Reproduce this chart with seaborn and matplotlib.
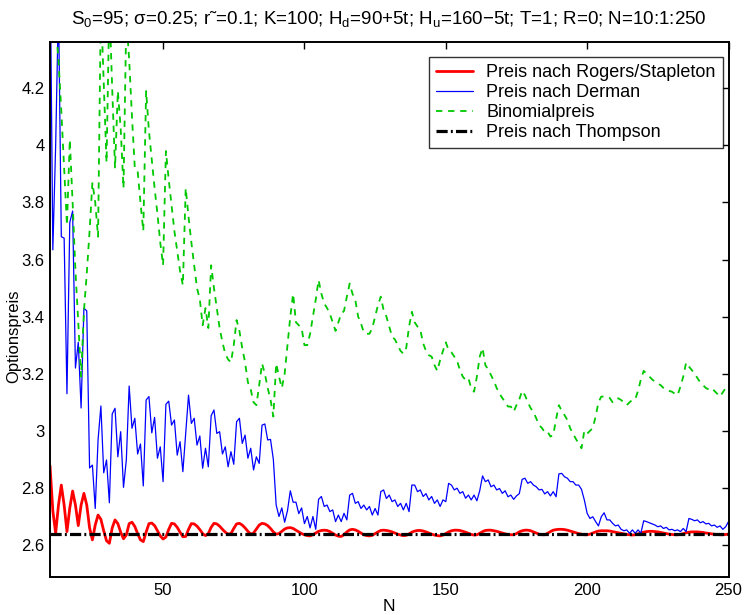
import numpy as np
import pandas as pd
import matplotlib
matplotlib.use("Agg")
import matplotlib.pyplot as plt
from matplotlib.ticker import FuncFormatter
import seaborn as sns

# ---------------- data ----------------
N = list(range(10, 251))

rogers_stapleton = [
    2.878, 2.72, 2.641, 2.74, 2.81, 2.74, 2.647, 2.73, 2.789, 2.74,
    2.668, 2.74, 2.781, 2.74, 2.66, 2.618, 2.67, 2.705, 2.69, 2.65,
    2.615, 2.606, 2.66, 2.688, 2.675, 2.645, 2.622, 2.635, 2.675, 2.68,
    2.665, 2.64, 2.618, 2.612, 2.645, 2.675, 2.677, 2.668, 2.65, 2.632,
    2.621, 2.628, 2.655, 2.676, 2.674, 2.662, 2.645, 2.629, 2.63, 2.655,
    2.675, 2.674, 2.666, 2.654, 2.64, 2.633, 2.64, 2.662, 2.676, 2.674,
    2.666, 2.655, 2.645, 2.638, 2.64, 2.658, 2.674, 2.676, 2.67, 2.66,
    2.648, 2.638, 2.642, 2.656, 2.67, 2.676, 2.674, 2.668, 2.658, 2.646,
    2.638, 2.64, 2.648, 2.656, 2.66, 2.661, 2.658, 2.652, 2.646, 2.64,
    2.636, 2.633, 2.632, 2.636, 2.642, 2.648, 2.651, 2.652, 2.651, 2.647,
    2.641, 2.635, 2.631, 2.63, 2.636, 2.646, 2.653, 2.655, 2.653, 2.648,
    2.642, 2.636, 2.633, 2.632, 2.634, 2.64, 2.646, 2.651, 2.652, 2.651,
    2.649, 2.646, 2.642, 2.638, 2.635, 2.633, 2.634, 2.639, 2.645, 2.649,
    2.651, 2.651, 2.649, 2.646, 2.642, 2.638, 2.635, 2.633, 2.632, 2.635,
    2.64, 2.646, 2.65, 2.652, 2.652, 2.651, 2.648, 2.645, 2.641, 2.637,
    2.635, 2.636, 2.641, 2.647, 2.651, 2.652, 2.652, 2.65, 2.648, 2.645,
    2.642, 2.639, 2.637, 2.636, 2.636, 2.64, 2.646, 2.65, 2.652, 2.652,
    2.65, 2.646, 2.642, 2.638, 2.636, 2.636, 2.641, 2.647, 2.652, 2.654,
    2.655, 2.655, 2.654, 2.652, 2.649, 2.646, 2.643, 2.64, 2.638, 2.636,
    2.636, 2.638, 2.642, 2.646, 2.649, 2.65, 2.65, 2.65, 2.649, 2.647,
    2.645, 2.643, 2.641, 2.639, 2.637, 2.636, 2.635, 2.636, 2.639, 2.642,
    2.645, 2.647, 2.648, 2.648, 2.647, 2.646, 2.644, 2.642, 2.64, 2.638,
    2.637, 2.636, 2.636, 2.637, 2.64, 2.643, 2.645, 2.646, 2.646, 2.646,
    2.645, 2.644, 2.642, 2.641, 2.639, 2.638, 2.637, 2.636, 2.636, 2.637,
    2.638,
]

derman = [
    4.70, 3.634, 4.00, 4.50, 3.68, 3.675, 3.13, 3.73, 3.77, 3.22,
    3.31, 3.08, 3.43, 3.42, 2.87, 2.88, 2.728, 2.968, 3.087, 2.853,
    2.898, 2.748, 3.059, 3.079, 2.909, 2.997, 2.802, 2.898, 3.157, 3.009,
    3.044, 2.919, 2.954, 2.807, 3.108, 3.12, 2.993, 3.047, 2.904, 2.944,
    2.822, 3.093, 3.104, 3.02, 3.038, 2.915, 2.962, 2.857, 2.991, 3.125,
    3.026, 3.044, 2.95, 2.982, 2.869, 2.939, 2.874, 3.053, 3.073, 2.991,
    2.997, 2.919, 2.944, 2.874, 2.927, 2.883, 3.032, 3.044, 2.956, 2.985,
    2.904, 2.939, 2.863, 2.909, 2.886, 3.02, 3.024, 2.968, 2.97, 2.90,
    2.74, 2.70, 2.73, 2.68, 2.72, 2.79, 2.75, 2.75, 2.71, 2.73,
    2.675, 2.70, 2.66, 2.70, 2.655, 2.76, 2.77, 2.735, 2.74, 2.717,
    2.723, 2.682, 2.705, 2.682, 2.711, 2.688, 2.775, 2.781, 2.746, 2.752,
    2.728, 2.74, 2.723, 2.735, 2.705, 2.728, 2.705, 2.787, 2.793, 2.763,
    2.775, 2.752, 2.758, 2.735, 2.746, 2.723, 2.746, 2.717, 2.81, 2.81,
    2.787, 2.793, 2.77, 2.78, 2.758, 2.77, 2.746, 2.758, 2.735, 2.758,
    2.752, 2.816, 2.81, 2.793, 2.799, 2.781, 2.787, 2.764, 2.775, 2.758,
    2.775, 2.755, 2.79, 2.842, 2.822, 2.828, 2.804, 2.81, 2.793, 2.798,
    2.781, 2.79, 2.769, 2.775, 2.76, 2.772, 2.78, 2.83, 2.834, 2.816,
    2.822, 2.81, 2.804, 2.793, 2.795, 2.779, 2.787, 2.772, 2.787, 2.769,
    2.849, 2.851, 2.839, 2.834, 2.822, 2.822, 2.81, 2.81, 2.795, 2.758,
    2.711, 2.693, 2.699, 2.682, 2.667, 2.699, 2.713, 2.688, 2.688, 2.676,
    2.667, 2.67, 2.655, 2.65, 2.653, 2.641, 2.653, 2.641, 2.653, 2.641,
    2.685, 2.682, 2.678, 2.674, 2.67, 2.664, 2.667, 2.658, 2.662, 2.653,
    2.655, 2.65, 2.653, 2.647, 2.658, 2.647, 2.693, 2.69, 2.685, 2.688,
    2.678, 2.682, 2.674, 2.676, 2.667, 2.67, 2.662, 2.667, 2.655, 2.664,
    2.682,
]

binomial = [
    4.55, 4.50, 4.42, 4.30, 4.12, 3.92, 3.72, 4.02, 3.80, 3.56,
    3.38, 3.19, 3.42, 3.55, 3.70, 3.87, 3.80, 3.68, 4.50, 4.22,
    3.94, 4.50, 4.20, 3.92, 4.19, 4.06, 3.85, 4.45, 4.30, 4.10,
    3.92, 3.91, 3.80, 3.70, 4.19, 4.05, 3.95, 3.85, 3.76, 3.66,
    3.58, 3.98, 3.88, 3.79, 3.70, 3.63, 3.56, 3.51, 3.85, 3.75,
    3.66, 3.58, 3.50, 3.46, 3.37, 3.43, 3.36, 3.58, 3.50, 3.43,
    3.36, 3.31, 3.27, 3.25, 3.24, 3.30, 3.388, 3.35, 3.29, 3.24,
    3.17, 3.145, 3.10, 3.09, 3.16, 3.236, 3.20, 3.15, 3.11, 3.05,
    3.236, 3.19, 3.15, 3.20, 3.30, 3.40, 3.48, 3.38, 3.37, 3.36,
    3.30, 3.30, 3.34, 3.40, 3.46, 3.528, 3.48, 3.446, 3.43, 3.41,
    3.38, 3.35, 3.38, 3.41, 3.42, 3.47, 3.516, 3.48, 3.458, 3.40,
    3.376, 3.345, 3.34, 3.34, 3.36, 3.40, 3.44, 3.47, 3.423, 3.40,
    3.365, 3.33, 3.32, 3.30, 3.28, 3.27, 3.29, 3.365, 3.417, 3.38,
    3.365, 3.353, 3.306, 3.28, 3.265, 3.26, 3.23, 3.21, 3.248, 3.28,
    3.31, 3.283, 3.275, 3.26, 3.245, 3.213, 3.19, 3.178, 3.184, 3.149,
    3.137, 3.19, 3.26, 3.29, 3.23, 3.215, 3.195, 3.175, 3.15, 3.13,
    3.115, 3.10, 3.085, 3.085, 3.067, 3.09, 3.11, 3.14, 3.125, 3.10,
    3.08, 3.065, 3.044, 3.02, 3.01, 2.995, 2.997, 2.98, 2.985, 3.04,
    3.09, 3.07, 3.055, 3.038, 3.009, 2.99, 2.972, 2.956, 2.939, 3.00,
    2.99, 3.00, 3.01, 3.05, 3.10, 3.12, 3.12, 3.12, 3.115, 3.10,
    3.11, 3.114, 3.108, 3.10, 3.09, 3.10, 3.108, 3.11, 3.14, 3.18,
    3.21, 3.20, 3.19, 3.18, 3.172, 3.165, 3.16, 3.15, 3.143, 3.14,
    3.137, 3.13, 3.125, 3.155, 3.19, 3.239, 3.225, 3.213, 3.20, 3.185,
    3.17, 3.16, 3.15, 3.145, 3.15, 3.14, 3.13, 3.12, 3.135, 3.15,
    3.157,
]

thompson_price = 2.638

labels = ["Preis nach Rogers/Stapleton", "Preis nach Derman",
          "Binomialpreis", "Preis nach Thompson"]
x_ticks = [50, 100, 150, 200, 250]
y_ticks = [2.6, 2.8, 3.0, 3.2, 3.4, 3.6, 3.8, 4.0, 4.2]

title = ("S$_0$=95; σ=0.25; r˜=0.1; K=100; H$_d$=90+5t; "
         "H$_u$=160−5t; T=1; R=0; N=10:1:250")

# ---------------- styling ----------------
sns.set_theme(style="white")
plt.rcParams["font.family"] = ["Liberation Sans", "DejaVu Sans"]
plt.rcParams["mathtext.fontset"] = "custom"
plt.rcParams["mathtext.rm"] = "Liberation Sans"
plt.rcParams["mathtext.it"] = "Liberation Sans"
plt.rcParams["text.color"] = "black"
plt.rcParams["axes.labelcolor"] = "black"
plt.rcParams["xtick.color"] = "black"
plt.rcParams["ytick.color"] = "black"

fig = plt.figure(figsize=(7.45, 6.15), dpi=100)
ax = fig.add_axes([50 / 745, 1 - 577 / 615, (728.5 - 50) / 745, (577 - 42) / 615])

df = pd.DataFrame({
    "N": N,
    "rs": rogers_stapleton,
    "derman": derman,
    "binom": binomial,
    "thompson": [thompson_price] * len(N),
})

sns.lineplot(data=df, x="N", y="rs", ax=ax, color="#ff0000", lw=2.0,
             label=labels[0], estimator=None, sort=False)
sns.lineplot(data=df, x="N", y="derman", ax=ax, color="#0000ff", lw=0.9,
             label=labels[1], estimator=None, sort=False)
sns.lineplot(data=df, x="N", y="binom", ax=ax, color="#00c800", lw=1.3,
             label=labels[2], estimator=None, sort=False,
             linestyle=(0, (3.5, 3.2)))
sns.lineplot(data=df, x="N", y="thompson", ax=ax, color="black", lw=2.3,
             label=labels[3], estimator=None, sort=False,
             linestyle=(0, (3.5, 1.0, 0.6, 1.0)))

ax.set_xlim(10, 250)
ax.set_ylim(2.488, 4.362)
ax.set_xticks(x_ticks)
ax.set_yticks(y_ticks)
ax.yaxis.set_major_formatter(FuncFormatter(lambda v, p: f"{v:g}"))
ax.tick_params(direction="in", top=True, right=True, length=5, width=1,
               labelsize=12, pad=4)
for s in ax.spines.values():
    s.set_color("black")
    s.set_linewidth(1.4)

ax.set_xlabel("N", fontsize=12.5, labelpad=1)
ax.set_ylabel("Optionspreis", fontsize=12)
ax.yaxis.set_label_coords(-0.042, 0.45)
ax.set_title(title, fontsize=13.5, pad=13)

leg = ax.legend(loc="upper right", bbox_to_anchor=(0.9915, 0.972),
                fontsize=13, frameon=True, fancybox=False,
                handlelength=2.0, handletextpad=0.75, borderpad=0.4,
                labelspacing=0.16, borderaxespad=0.0)
leg.get_frame().set_edgecolor("black")
leg.get_frame().set_linewidth(1.0)

fig.savefig("out.png", dpi=100, facecolor="white")
